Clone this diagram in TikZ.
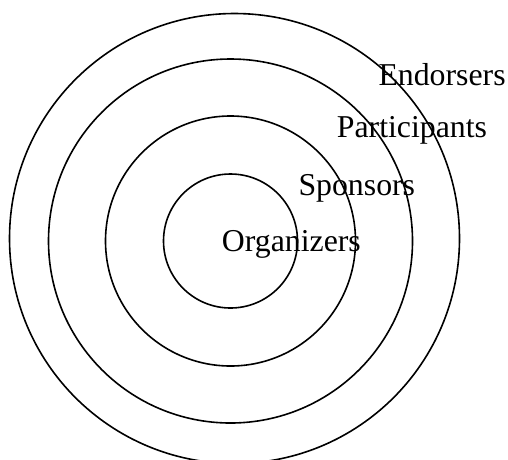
\documentclass[tikz,border=0pt]{standalone}
\usepackage{fontspec}
\setmainfont{Liberation Serif}
\usepackage{tikz}
\usetikzlibrary{positioning}

\begin{document}
\begin{tikzpicture}[
  x=1pt,y=-1pt,
  every node/.style={font=\fontsize{31.8}{36}\selectfont},
  ring/.style={circle,draw,line width=1.6pt,inner sep=0pt},
  lbl/.style={anchor=base west,inner sep=0pt}
]
\useasboundingbox (0,0) rectangle (508,459);
\clip (0,0) rectangle (508,459);
\def\cx{230.5}
\def\cy{241}
% rings, inner to outer
\node[ring,minimum size=134pt] (organizers) at (\cx,\cy) {};
\node[ring,minimum size=250pt] (sponsors) at (\cx,\cy) {};
\node[ring,minimum size=364pt] (participants) at (\cx,\cy) {};
\node[ring,minimum size=450pt] (endorsers) at (234.5,238.5) {};

% labels
\node[lbl] (lorg) at (221.7,251.7) {Organizers};
\node[lbl] (lspo) at (298.3,195) {Sponsors};
\node[lbl] (lpar) at (336.7,137.3) {Participants};
\node[lbl] (lend) at (378.3,85) {Endorsers};
\end{tikzpicture}
\end{document}
